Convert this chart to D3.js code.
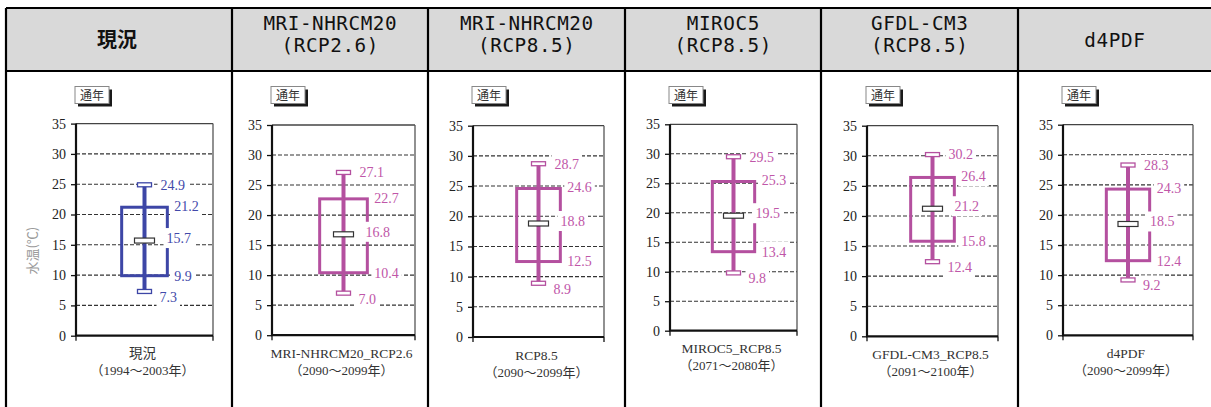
<!DOCTYPE html>
<html>
<head>
<meta charset="utf-8">
<script src="https://cdn.jsdelivr.net/npm/d3@7/dist/d3.min.js"></script>
<style>
  html, body { margin: 0; padding: 0; background: #fff; }
  svg { display: block; }
</style>
</head>
<body>
<svg id="chart" width="1211" height="407"></svg>
<script>
// ---- data ----
const headerLine1 = ["現況", "MRI-NHRCM20", "MRI-NHRCM20", "MIROC5", "GFDL-CM3", "d4PDF"];
const headerLine2 = ["", "(RCP2.6)", "(RCP8.5)", "(RCP8.5)", "(RCP8.5)", ""];
const categories = ["現況", "MRI-NHRCM20_RCP2.6", "RCP8.5", "MIROC5_RCP8.5", "GFDL-CM3_RCP8.5", "d4PDF"];
const periods = ["（1994～2003年）", "（2090～2099年）", "（2090～2099年）", "（2071～2080年）", "（2091～2100年）", "（2090～2099年）"];
const maxValues = [24.9, 27.1, 28.7, 29.5, 30.2, 28.3];
const q3Values = [21.2, 22.7, 24.6, 25.3, 26.4, 24.3];
const medianValues = [15.7, 16.8, 18.8, 19.5, 21.2, 18.5];
const q1Values = [9.9, 10.4, 12.5, 13.4, 15.8, 12.4];
const minValues = [7.3, 7.0, 8.9, 9.8, 12.4, 9.2];
const yTicks = [0, 5, 10, 15, 20, 25, 30, 35];
const seasonLabel = "通年";
const yTitle = "水温(℃)";

// ---- layout ----
const colEdges = [6, 232, 428, 625, 821, 1018, 1211];
const headerTop = 8, headerBottom = 71;
const panels = [
  { left: 76,   right: 213,  y0: 335.7, yTop: 123.6 },
  { left: 272,  right: 415,  y0: 335.2, yTop: 125.0 },
  { left: 473,  right: 604,  y0: 337.0, yTop: 125.7 },
  { left: 670,  right: 797,  y0: 330.7, yTop: 124.3 },
  { left: 867,  right: 998,  y0: 336.3, yTop: 125.7 },
  { left: 1063, right: 1193, y0: 335.3, yTop: 124.7 }
];
const seriesColor = ["#3d46a6", "#b4509f", "#b4509f", "#b4509f", "#b4509f", "#b4509f"];
const labelColor  = ["#4249aa", "#c056a8", "#c056a8", "#c056a8", "#c056a8", "#c056a8"];

const fmt = d3.format(".1f");
const svg = d3.select("#chart");
const serif = "'Liberation Serif', 'Times New Roman', 'Noto Sans CJK JP', serif";
const cjk = "'Noto Sans CJK JP', sans-serif";
const mono = "'DejaVu Sans Mono', 'Liberation Mono', monospace";

// ---- table header ----
svg.append("rect")
  .attr("x", colEdges[0]).attr("y", headerTop)
  .attr("width", colEdges[6] - colEdges[0]).attr("height", headerBottom - headerTop)
  .attr("fill", "#d9d9d9");

headerLine1.forEach((t, i) => {
  const cx = (colEdges[i] + colEdges[i + 1]) / 2;
  if (i === 0) {
    svg.append("text").attr("x", cx - 2).attr("y", 47)
      .attr("text-anchor", "middle")
      .attr("font-family", cjk).attr("font-weight", 700).attr("font-size", 20)
      .attr("fill", "#111").text(t);
    return;
  }
  const lines = headerLine2[i] ? [t, headerLine2[i]] : [t];
  const baselines = lines.length === 2 ? [29.5, 52] : [46.5];
  lines.forEach((s, k) => {
    svg.append("text").attr("x", cx).attr("y", baselines[k])
      .attr("text-anchor", "middle")
      .attr("font-family", mono).attr("font-size", 19.3)
      .attr("textLength", s.length * 12.1).attr("lengthAdjust", "spacing")
      .attr("fill", "#111").text(s);
  });
});

// ---- panels ----
panels.forEach((p, i) => {
  const g = svg.append("g");
  const y = d3.scaleLinear().domain([0, 35]).range([p.y0, p.yTop]);
  const cx = (p.left + p.right) / 2;
  const x = d3.scaleBand().domain([categories[i]]).range([p.left, p.right]).padding(0.5);
  const bx = x(categories[i]);
  const br = bx + x.bandwidth();
  const wx = bx + x.bandwidth() / 2;
  const col = seriesColor[i];

  // season tag with drop shadow
  const tagX = p.left - 1, tagY = 86.5;
  g.append("rect").attr("x", tagX + 3).attr("y", tagY + 3).attr("width", 34).attr("height", 17).attr("fill", "#1a1a1a");
  g.append("rect").attr("x", tagX).attr("y", tagY).attr("width", 34).attr("height", 17)
    .attr("fill", "#fff").attr("stroke", "#888").attr("stroke-width", 1);
  g.append("text").attr("x", tagX + 17).attr("y", tagY + 13)
    .attr("text-anchor", "middle").attr("font-family", cjk).attr("font-size", 12)
    .attr("fill", "#333").text(seasonLabel);

  // gridlines
  g.selectAll(".grid").data(yTicks.filter(d => d > 0 && d < 35)).enter()
    .append("line")
    .attr("x1", p.left).attr("x2", p.right)
    .attr("y1", d => y(d)).attr("y2", d => y(d))
    .attr("stroke", "#333").attr("stroke-width", 1.1).attr("stroke-dasharray", "4,2");
  // top and right frame
  g.append("line").attr("x1", p.left).attr("x2", p.right).attr("y1", y(35)).attr("y2", y(35))
    .attr("stroke", "#444").attr("stroke-width", 1.3);
  g.append("line").attr("x1", p.right).attr("x2", p.right).attr("y1", y(35)).attr("y2", y(0))
    .attr("stroke", "#555").attr("stroke-width", 1.3);

  // y axis
  const yAxis = d3.axisLeft(y).tickValues(yTicks).tickSize(5).tickPadding(5).tickFormat(d3.format("d"));
  const ya = g.append("g").attr("transform", `translate(${p.left},0)`).call(yAxis);
  ya.select(".domain").attr("stroke", "#111").attr("stroke-width", 2.2).attr("d", `M0,${y(35)}V${y(0)}`);
  ya.selectAll(".tick line").attr("stroke", "#111").attr("stroke-width", 1.3);
  ya.selectAll(".tick text").attr("font-family", serif).attr("font-size", 14).attr("fill", "#222");

  // x axis
  g.append("line").attr("x1", p.left - 1).attr("x2", p.right).attr("y1", y(0)).attr("y2", y(0))
    .attr("stroke", "#111").attr("stroke-width", 2.2);
  [p.left, p.right].forEach(xx => {
    g.append("line").attr("x1", xx).attr("x2", xx).attr("y1", y(0)).attr("y2", y(0) + 5)
      .attr("stroke", "#111").attr("stroke-width", 1.3);
  });

  // box (Q1–Q3)
  g.append("rect").attr("x", bx).attr("y", y(q3Values[i]))
    .attr("width", br - bx).attr("height", y(q1Values[i]) - y(q3Values[i]))
    .attr("fill", "none").attr("stroke", col).attr("stroke-width", 3);

  // whisker
  g.append("line").attr("x1", wx).attr("x2", wx)
    .attr("y1", y(maxValues[i])).attr("y2", y(minValues[i]))
    .attr("stroke", col).attr("stroke-width", 4);
  [maxValues[i], minValues[i]].forEach(v => {
    g.append("rect").attr("x", wx - 7).attr("y", y(v) - 2).attr("width", 14).attr("height", 4)
      .attr("fill", "#fff").attr("stroke", col).attr("stroke-width", 1.3);
  });

  // median marker
  g.append("rect").attr("x", wx - 10).attr("y", y(medianValues[i]) - 2.5).attr("width", 20).attr("height", 5)
    .attr("fill", "#fff").attr("stroke", "#333").attr("stroke-width", 1.2);

  // data labels with white background
  const labels = [
    { v: maxValues[i],    x: wx + 16, dy: 0 },
    { v: q3Values[i],     x: br + 7,  dy: -1 },
    { v: medianValues[i], x: wx + 22, dy: -2.5 },
    { v: q1Values[i],     x: br + 7,  dy: 0 },
    { v: minValues[i],    x: wx + 15, dy: 5.5 }
  ];
  labels.forEach(l => {
    const lg = g.append("g");
    const cy = y(l.v) + l.dy;
    const bg = lg.append("rect").attr("fill", "#fff");
    const t = lg.append("text").attr("x", l.x).attr("y", cy).attr("dy", "0.35em")
      .attr("font-family", serif).attr("font-size", 14).attr("fill", labelColor[i])
      .text(fmt(l.v));
    const w = t.node().getComputedTextLength();
    bg.attr("x", l.x - 3).attr("y", cy - 10).attr("width", w + 6).attr("height", 20);
  });

  // category labels
  g.append("text").attr("x", cx - 2).attr("y", y(0) + 22.5).attr("text-anchor", "middle")
    .attr("font-family", serif).attr("font-size", 13.5).attr("fill", "#333").text(categories[i]);
  g.append("text").attr("x", cx - 2).attr("y", y(0) + 39.5).attr("text-anchor", "middle")
    .attr("font-family", serif).attr("font-size", 13).attr("fill", "#333").text(periods[i]);

  // y axis title on the first panel
  if (i === 0) {
    svg.append("text").attr("transform", `translate(32,${(y(0) + y(35)) / 2 + 21}) rotate(-90)`)
      .attr("text-anchor", "middle").attr("dy", "0.35em")
      .attr("font-family", cjk).attr("font-size", 13).attr("fill", "#9a9a9a").text(yTitle);
  }
});

// ---- table grid lines ----
svg.append("line").attr("x1", colEdges[0]).attr("x2", colEdges[6]).attr("y1", headerTop).attr("y2", headerTop)
  .attr("stroke", "#000").attr("stroke-width", 2.2);
svg.append("line").attr("x1", colEdges[0]).attr("x2", colEdges[6]).attr("y1", headerBottom).attr("y2", headerBottom)
  .attr("stroke", "#000").attr("stroke-width", 2.2);
colEdges.slice(0, 6).forEach(xx => {
  svg.append("line").attr("x1", xx).attr("x2", xx).attr("y1", headerTop).attr("y2", 407)
    .attr("stroke", "#000").attr("stroke-width", 2.2);
});
</script>
</body>
</html>
